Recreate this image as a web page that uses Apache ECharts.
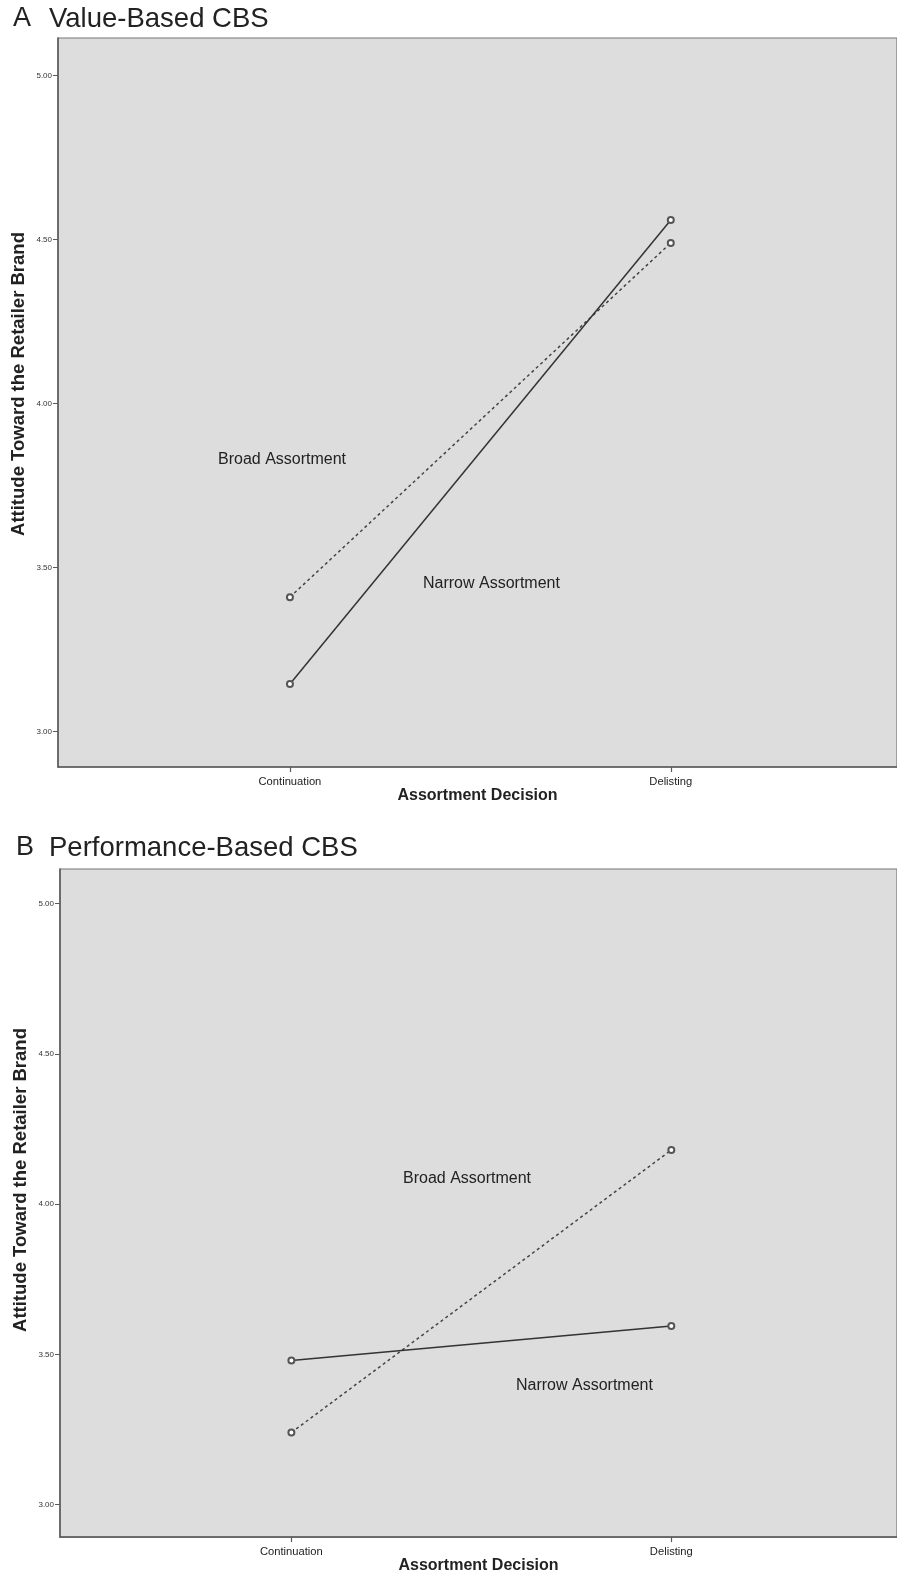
<!DOCTYPE html>
<html>
<head>
<meta charset="utf-8">
<script src="https://cdn.jsdelivr.net/npm/echarts@6/dist/echarts.min.js"></script>
<style>
  html, body { margin: 0; padding: 0; background: #ffffff; }
  #chart { width: 897px; height: 1575px; }
</style>
</head>
<body>
<div id="chart"></div>
<script>
// Assortment decision categories (x positions 0 and 1)
const categories = ['Continuation', 'Delisting'];
const yTicks = [3.0, 3.5, 4.0, 4.5, 5.0];

// Panel A: value-based CBS
const valueBroad = [3.41, 4.49];
const valueNarrow = [3.145, 4.56];

// Panel B: performance-based CBS
const perfBroad = [3.24, 4.18];
const perfNarrow = [3.48, 3.594];

const FONT = '"Liberation Sans", Arial, Helvetica, sans-serif';
const INK = '#222222';
const AXIS = '#5a5a5a';
const Y_TITLE = 'Attitude Toward the Retailer Brand';

const toPoints = vals => vals.map((v, i) => [i, v]);

function xAxisFor(gridIndex, nameGap) {
  return {
    type: 'value', gridIndex,
    min: -0.609, max: 1.594,
    name: 'Assortment Decision',
    nameLocation: 'middle', nameGap,
    nameTextStyle: { fontFamily: FONT, fontSize: 16, fontWeight: 'bold', color: INK },
    axisLine: { show: true, onZero: false, lineStyle: { color: AXIS, width: 1.5 } },
    axisTick: { show: true, customValues: [0, 1], length: 5, inside: false, lineStyle: { color: AXIS, width: 1.2 } },
    axisLabel: {
      customValues: [0, 1], margin: 9,
      formatter: v => categories[Math.round(v)] || '',
      fontFamily: FONT, fontSize: 11.2, color: INK
    },
    splitLine: { show: false }
  };
}

function yAxisFor(gridIndex) {
  return {
    type: 'value', gridIndex,
    min: 2.892, max: 5.115,
    axisLine: { show: true, onZero: false, lineStyle: { color: AXIS, width: 1.5 } },
    axisTick: { show: true, customValues: yTicks, length: 5, lineStyle: { color: AXIS, width: 1 } },
    axisLabel: {
      customValues: yTicks, margin: 6,
      formatter: v => v.toFixed(2),
      fontFamily: FONT, fontSize: 8, color: '#333'
    },
    splitLine: { show: false }
  };
}

function lineSeries(idx, data, dashed) {
  return {
    type: 'line', xAxisIndex: idx, yAxisIndex: idx,
    data: toPoints(data),
    symbol: 'emptyCircle', symbolSize: 6,
    lineStyle: { color: dashed ? '#444' : '#333', width: 1.5, type: dashed ? [3, 3] : 'solid' },
    itemStyle: { color: '#555', borderColor: '#555', borderWidth: 1.2 },
    silent: true, animation: false
  };
}

function txt(x, y, text, size, weight) {
  return {
    type: 'text', x, y,
    style: { text, fontFamily: FONT, fontSize: size, fontWeight: weight || 'normal', fill: INK, textVerticalAlign: 'middle' }
  };
}

// rotated axis title, centred on (x, y)
function yTitle(x, y) {
  return {
    type: 'text', x, y, rotation: Math.PI / 2,
    style: { text: Y_TITLE, fontFamily: FONT, fontSize: 18.5, fontWeight: 'bold', fill: INK, textAlign: 'center', textVerticalAlign: 'middle' }
  };
}

const chart = echarts.init(document.getElementById('chart'), null, { renderer: 'canvas' });
chart.setOption({
  backgroundColor: '#ffffff',
  animation: false,
  grid: [
    { left: 58, top: 38, right: -3, height: 729, show: true, backgroundColor: '#dddddd', borderColor: '#777', borderWidth: 1.2 },
    { left: 60, top: 869, right: -3, height: 670, show: true, backgroundColor: '#dddddd', borderColor: '#777', borderWidth: 1.2 }
  ],
  xAxis: [xAxisFor(0, 21), xAxisFor(1, 20)],
  yAxis: [yAxisFor(0), yAxisFor(1)],
  series: [
    lineSeries(0, valueBroad, true),
    lineSeries(0, valueNarrow, false),
    lineSeries(1, perfBroad, true),
    lineSeries(1, perfNarrow, false)
  ],
  graphic: [
    txt(13, 19, 'A', 27),
    txt(49, 19, 'Value-Based CBS', 27.5),
    txt(16, 848, 'B', 27),
    txt(49, 848, 'Performance-Based CBS', 27.5),
    yTitle(19, 384),
    yTitle(21, 1180),
    txt(218, 460, 'Broad Assortment', 16),
    txt(423, 584, 'Narrow Assortment', 16),
    txt(403, 1179, 'Broad Assortment', 16),
    txt(516, 1386, 'Narrow Assortment', 16)
  ]
});
</script>
</body>
</html>
